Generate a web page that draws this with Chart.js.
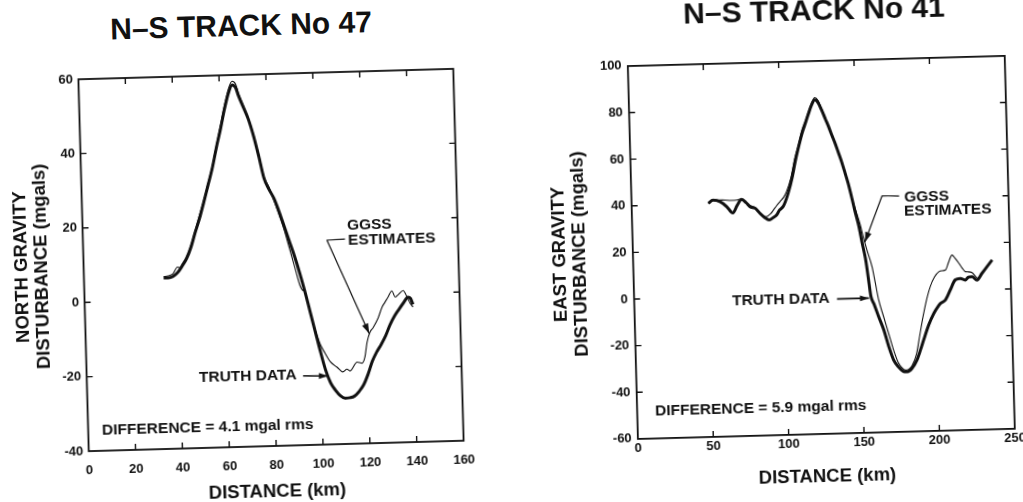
<!DOCTYPE html>
<html>
<head>
<meta charset="utf-8">
<script src="https://cdn.jsdelivr.net/npm/chart.js@4.4.0/dist/chart.umd.min.js"></script>
<style>
  html, body { margin: 0; padding: 0; background: #fff; width: 1023px; height: 502px; overflow: hidden; }
  .panel { position: absolute; top: 0; height: 502px; }
  .panel canvas { position: absolute; left: 0; top: 0; }
  .ttl { position: absolute; width: 320px; text-align: center; white-space: nowrap;
         font: bold 30px "Liberation Sans", Arial, Helvetica, sans-serif; line-height: 30px; color: #111; }
  /* the printed page sits slightly askew */
  #p47 { left: 0; width: 512px; transform-origin: 271px 260px; transform: rotate(-1.6deg); }
  #p41 { left: 512px; width: 530px; transform-origin: 309.3px 247.4px; transform: rotate(-1.55deg); }
</style>
</head>
<body>
<div class="panel" id="p47">
  <div class="ttl" style="left:87.6px; top:9.6px;">N–S TRACK No 47</div>
  <canvas id="c47" width="512" height="502"></canvas>
</div>
<div class="panel" id="p41">
  <div class="ttl" style="left:148.4px; top:-4.8px;">N–S TRACK No 41</div>
  <canvas id="c41" width="530" height="502"></canvas>
</div>
<script>
// ---- Track 47: north gravity disturbance (mgals) along distance (km) ----
const track47TruthKm = [34, 36, 38, 40, 42, 44, 46, 48, 50, 52, 54, 56, 58, 60, 62, 64, 65.5, 67, 68, 70, 72, 74, 76, 78, 80, 82, 84, 86, 88, 90, 92, 94, 96, 98, 100, 102, 104, 106, 108, 110, 112, 114, 116, 118, 120, 122, 124, 126, 128, 130, 132, 134, 136, 138, 139, 140];
const track47TruthMgal = [6, 6, 6.3, 7.3, 9, 11, 14, 18, 21.7, 26, 30.5, 35, 40.5, 45.5, 51, 55.5, 57.3, 56.5, 54.5, 51.3, 48, 43.5, 38, 32, 29, 26.5, 23, 19, 15, 11, 6.5, 1.5, -4, -9.5, -15, -20, -23.5, -25.5, -27, -27.7, -27.6, -27.2, -26, -24.3, -21.5, -18, -15.5, -13.5, -11.2, -8.3, -6, -4.2, -2.5, -1, -1.3, -3];
const track47GgssKm = [34, 36, 38, 40, 41, 42, 44, 46, 48, 50, 52, 54, 56, 58, 60, 62, 64, 65.5, 67, 68, 70, 72, 74, 76, 78, 80, 82, 84, 86, 88, 90, 92, 93, 94, 96, 98, 100, 101.9, 104.1, 106.9, 109.3, 111.1, 112.4, 115.5, 117.6, 118.9, 120, 121.4, 122.7, 125, 126.8, 128.1, 129.5, 131.2, 132.5, 133.8, 136, 137.6, 138.8, 140];
const track47GgssMgal = [6.3, 6.5, 7, 8.8, 8.6, 9.5, 11.5, 14.5, 18.5, 22.5, 26.5, 31, 35.5, 41, 46.5, 52, 56.5, 58.3, 57.5, 55.3, 51.8, 48.3, 44, 38.5, 32.5, 29.5, 26, 22, 18, 13, 8, 3, 1.7, 1.2, -4, -9, -13, -15.4, -17.8, -19.3, -20.6, -19.9, -20.4, -18.1, -18.4, -16.8, -12.8, -10.1, -9, -6.4, -3.5, -2.2, -0.8, 0.8, -0.9, -0.3, 0.8, -1, -2.6, -3.7];
const track47KmTicks = [0, 20, 40, 60, 80, 100, 120, 140, 160];
const track47MgalTicks = [-40, -20, 0, 20, 40, 60];

// ---- Track 41: east gravity disturbance (mgals) along distance (km) ----
const track41TruthKm = [50.9, 54, 58.6, 63, 67, 70, 73, 76, 78.4, 82, 85, 88, 91, 94, 96, 98, 100.5, 102, 104, 107, 109.5, 112, 114.3, 117, 119, 121, 123.3, 125, 127.6, 130, 132, 134, 136, 138, 140, 141.5, 144, 146.4, 148, 150.3, 152, 154, 155, 156, 157, 159, 161.8, 165, 168, 171, 174, 178, 180, 183, 186.4, 189, 191.2, 194.8, 198.4, 201, 203, 206.3, 209.7, 213.2, 216.6, 219.8, 222, 224.4, 227.6, 231, 234.5, 238];
const track41TruthMgal = [40.2, 41.5, 40.8, 38.6, 35.8, 39, 41.5, 40, 38.3, 37.5, 35.3, 33.5, 32.4, 33.5, 34.4, 36.5, 38, 40, 43.6, 50.5, 57.8, 64, 69.2, 74, 77.7, 81, 83.3, 82.5, 79, 75, 71.7, 68, 64.5, 60.5, 56.5, 53, 47, 40, 35, 28.5, 22, 15, 10, 4, -1.5, -5, -10.4, -16.2, -23.4, -29.2, -32.1, -34.3, -34.3, -32.9, -29.4, -25, -20.9, -14.5, -9.6, -7, -5.4, -4, 0.2, 4.5, 5.1, 4.3, 5.5, 5.7, 4.2, 7, 9.8, 12.6];
const track41GgssKm = [50.9, 54, 58, 62, 66, 70, 73, 76, 78.5, 82, 86, 89, 92, 94, 96, 98.4, 101, 103, 106, 109, 112, 114, 117, 119, 121, 123.3, 125.5, 127.6, 130, 132, 134, 136, 138, 140, 141.5, 144, 146.6, 148.5, 151.2, 153, 155.2, 158.3, 160.2, 162.1, 165.1, 168.1, 171.1, 174.2, 177, 178.6, 181, 183, 186.3, 188.5, 191.2, 193.5, 196.5, 199.5, 202.5, 205, 207, 209, 211.5, 213.5, 215.9, 218, 220.1, 222, 224.5, 226.5, 228, 231, 234.5, 238];
const track41GgssMgal = [40.2, 41.8, 41.5, 41.4, 41.2, 41.3, 41.8, 40.3, 38.8, 37.8, 34.6, 33.8, 35, 36.6, 38.3, 40.1, 42, 44.4, 50, 58.5, 65, 70, 75, 78.5, 82, 84.3, 83, 79.5, 75.5, 72, 68.5, 65, 61, 57, 53.5, 47.5, 40, 35.5, 29.3, 24, 18.4, 11.1, 4, -3.2, -10.5, -17.6, -24.9, -30.6, -33, -33.6, -33.2, -31.9, -26.6, -19.5, -10.9, -4.5, 1.9, 6, 8.2, 8.6, 8.9, 12, 15.2, 13.8, 11.6, 9.5, 7.9, 7.8, 7.4, 6, 5, 7, 9.8, 12.6];
const track41KmTicks = [0, 50, 100, 150, 200, 250];
const track41MgalTicks = [-60, -40, -20, 0, 20, 40, 60, 80, 100];

const INK = '#111';
const FONT = '"Liberation Sans", Arial, Helvetica, sans-serif';

function pairs(xs, ys) { return xs.map((x, i) => ({ x, y: ys[i] })); }

// Plot frame with short inward tick marks on all four sides
const frameTicks = {
  id: 'frameTicks',
  afterDraw(chart) {
    const { ctx, chartArea: a, scales: { x, y } } = chart;
    const len = 6;
    ctx.save();
    ctx.strokeStyle = INK;
    ctx.lineWidth = 1.8;
    ctx.strokeRect(a.left, a.top, a.right - a.left, a.bottom - a.top);
    ctx.lineWidth = 1.4;
    ctx.beginPath();
    x.ticks.forEach(t => {
      if (t.value <= x.min || t.value >= x.max) return;
      const p = x.getPixelForValue(t.value);
      ctx.moveTo(p, a.bottom); ctx.lineTo(p, a.bottom - len);
      ctx.moveTo(p, a.top); ctx.lineTo(p, a.top + len);
    });
    y.ticks.forEach(t => {
      if (t.value <= y.min || t.value >= y.max) return;
      const p = y.getPixelForValue(t.value);
      ctx.moveTo(a.left, p); ctx.lineTo(a.left + len, p);
      ctx.moveTo(a.right, p); ctx.lineTo(a.right - len, p);
    });
    ctx.stroke();
    ctx.restore();
  }
};

// Text notes and pointer arrows placed in data units
function notesPlugin(spec) {
  return {
    id: 'notes',
    afterDatasetsDraw(chart) {
      const { ctx, scales: { x, y } } = chart;
      ctx.save();
      ctx.fillStyle = INK;
      ctx.strokeStyle = INK;
      ctx.lineJoin = 'round';
      ctx.font = 'bold 15.5px ' + FONT;
      ctx.textAlign = 'left';
      ctx.textBaseline = 'middle';
      spec.labels.forEach(l => ctx.fillText(l.text, x.getPixelForValue(l.x), y.getPixelForValue(l.y)));
      spec.arrows.forEach(ar => {
        const pts = ar.path.map(p => [x.getPixelForValue(p[0]), y.getPixelForValue(p[1])]);
        ctx.lineWidth = ar.width;
        ctx.beginPath();
        pts.forEach((p, i) => i ? ctx.lineTo(p[0], p[1]) : ctx.moveTo(p[0], p[1]));
        ctx.stroke();
        const [x1, y1] = pts[pts.length - 2];
        const [x2, y2] = pts[pts.length - 1];
        const ang = Math.atan2(y2 - y1, x2 - x1);
        const h = ar.head, w = ar.head * 0.33;
        const bx = x2 - h * Math.cos(ang), by = y2 - h * Math.sin(ang);
        ctx.beginPath();
        ctx.moveTo(x2, y2);
        ctx.lineTo(bx + w * Math.sin(ang), by - w * Math.cos(ang));
        ctx.lineTo(bx - w * Math.sin(ang), by + w * Math.cos(ang));
        ctx.closePath();
        ctx.fill();
      });
      ctx.restore();
    }
  };
}

function buildChart(id, c) {
  const tickFont = { family: FONT, size: 13, weight: 'bold' };
  const titleFont = { family: FONT, size: 18.5, weight: 'bold', lineHeight: 1.08 };
  return new Chart(document.getElementById(id), {
    type: 'line',
    data: {
      datasets: [
        { label: 'TRUTH DATA', data: pairs(c.truthKm, c.truthMgal), borderColor: INK, borderWidth: 3,
          pointRadius: 0, cubicInterpolationMode: 'monotone', borderJoinStyle: 'round', fill: false },
        { label: 'GGSS ESTIMATES', data: pairs(c.ggssKm, c.ggssMgal), borderColor: INK, borderWidth: 1.1,
          pointRadius: 0, cubicInterpolationMode: 'monotone', borderJoinStyle: 'round', fill: false }
      ]
    },
    options: {
      responsive: false,
      animation: false,
      events: [],
      layout: { padding: c.padding },
      plugins: { legend: { display: false }, tooltip: { enabled: false }, title: { display: false } },
      scales: {
        x: {
          type: 'linear',
          min: c.kmTicks[0], max: c.kmTicks[c.kmTicks.length - 1],
          afterBuildTicks: s => { s.ticks = c.kmTicks.map(v => ({ value: v })); },
          afterFit: s => { s.height = c.xAxisHeight; },
          grid: { display: false, drawTicks: false },
          border: { display: false },
          ticks: { padding: c.xTickPad, color: INK, font: tickFont, maxRotation: 0, autoSkip: false },
          title: { display: true, text: 'DISTANCE (km)', color: INK, font: titleFont,
                   padding: { top: 0, bottom: c.xTitlePad } }
        },
        y: {
          type: 'linear',
          min: c.mgalTicks[0], max: c.mgalTicks[c.mgalTicks.length - 1],
          afterBuildTicks: s => { s.ticks = c.mgalTicks.map(v => ({ value: v })); },
          afterFit: s => { s.width = c.yAxisWidth; },
          grid: { display: false, drawTicks: false },
          border: { display: false },
          ticks: { padding: c.yTickPad, color: INK, font: tickFont, autoSkip: false },
          title: { display: true, text: c.yTitle, color: INK, font: titleFont,
                   padding: { top: c.yTitlePad, bottom: 0 } }
        }
      }
    },
    plugins: [frameTicks, notesPlugin(c.notes)]
  });
}

buildChart('c47', {
  truthKm: track47TruthKm, truthMgal: track47TruthMgal,
  ggssKm: track47GgssKm, ggssMgal: track47GgssMgal,
  kmTicks: track47KmTicks, mgalTicks: track47MgalTicks,
  yTitle: ['NORTH GRAVITY', 'DISTURBANCE (mgals)'],
  padding: { top: 74, right: 53.5, bottom: 0, left: 0 },
  yAxisWidth: 83.5, xAxisHeight: 56,
  xTickPad: 12, yTickPad: 5.5, xTitlePad: 0, yTitlePad: 12.4,
  notes: {
    labels: [
      { text: 'TRUTH DATA', x: 47.9, y: -21 },
      { text: 'GGSS', x: 112.8, y: 18.7 },
      { text: 'ESTIMATES', x: 113.1, y: 14.6 },
      { text: 'DIFFERENCE = 4.1 mgal rms', x: 5.9, y: -34.6 }
    ],
    arrows: [
      { path: [[92.3, -21.4], [102.9, -21.6]], width: 1.6, head: 9 },
      { path: [[111.8, 15.1], [104.1, 14.9], [121, -10.5]], width: 1.2, head: 10 }
    ]
  }
});

buildChart('c41', {
  truthKm: track41TruthKm, truthMgal: track41TruthMgal,
  ggssKm: track41GgssKm, ggssMgal: track41GgssMgal,
  kmTicks: track41KmTicks, mgalTicks: track41MgalTicks,
  yTitle: ['EAST GRAVITY', 'DISTURBANCE (mgals)'],
  padding: { top: 60.9, right: 32.2, bottom: 0, left: 0 },
  yAxisWidth: 120.8, xAxisHeight: 68.1,
  xTickPad: 2, yTickPad: 6.2, xTitlePad: 15, yTitlePad: 38.3,
  notes: {
    labels: [
      { text: 'TRUTH DATA', x: 64.9, y: -2.1 },
      { text: 'GGSS', x: 180.8, y: 40.4 },
      { text: 'ESTIMATES', x: 180.5, y: 34.6 },
      { text: 'DIFFERENCE = 5.9 mgal rms', x: 11.9, y: -48.2 }
    ],
    arrows: [
      { path: [[134.5, -2.3], [155.7, -2.3]], width: 1.6, head: 9 },
      { path: [[177.5, 41.1], [166.2, 41.4], [154, 21.8]], width: 1.2, head: 10 }
    ]
  }
});
</script>
</body>
</html>
